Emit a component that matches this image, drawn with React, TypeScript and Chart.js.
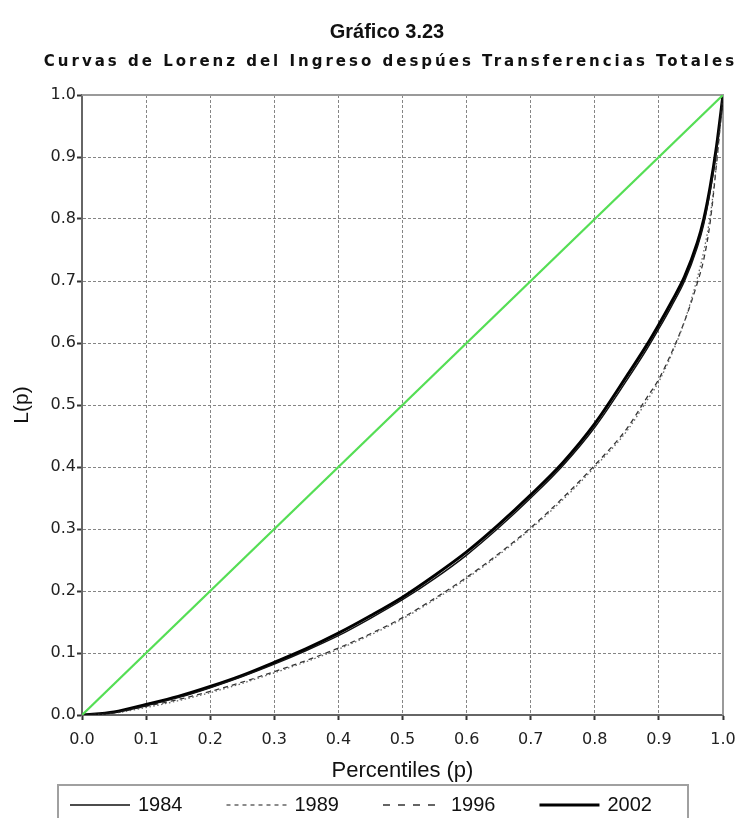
import React, { useEffect, useRef } from 'react';
import { Chart, registerables } from 'chart.js';

Chart.register(...registerables);

// ---- data ----
const percentiles = [0, 0.05, 0.1, 0.15, 0.2, 0.25, 0.3, 0.35, 0.4, 0.45, 0.5, 0.55, 0.6, 0.65, 0.7, 0.75, 0.8, 0.85, 0.88, 0.9, 0.92, 0.94, 0.96, 0.97, 0.98, 0.99, 1.0];
const lorenz1984 = [0, 0.004, 0.015, 0.028, 0.044, 0.062, 0.082, 0.104, 0.128, 0.156, 0.186, 0.220, 0.258, 0.302, 0.350, 0.402, 0.464, 0.540, 0.588, 0.623, 0.660, 0.700, 0.755, 0.792, 0.845, 0.912, 1.0];
const lorenz1989 = [0, 0.003, 0.012, 0.023, 0.036, 0.051, 0.068, 0.086, 0.106, 0.129, 0.155, 0.186, 0.220, 0.258, 0.300, 0.347, 0.400, 0.458, 0.505, 0.538, 0.582, 0.635, 0.705, 0.748, 0.805, 0.890, 1.0];
const lorenz1996 = [0, 0.004, 0.014, 0.025, 0.038, 0.053, 0.070, 0.088, 0.108, 0.131, 0.157, 0.188, 0.222, 0.260, 0.302, 0.350, 0.403, 0.462, 0.510, 0.542, 0.585, 0.635, 0.697, 0.735, 0.795, 0.890, 1.0];
const lorenz2002 = [0, 0.005, 0.017, 0.030, 0.046, 0.064, 0.085, 0.107, 0.132, 0.160, 0.190, 0.225, 0.263, 0.307, 0.355, 0.407, 0.470, 0.547, 0.595, 0.630, 0.667, 0.707, 0.762, 0.800, 0.852, 0.918, 1.0];
const equalityX = [0, 1];
const equalityY = [0, 1];
const tickValues = [0, 0.1, 0.2, 0.3, 0.4, 0.5, 0.6, 0.7, 0.8, 0.9, 1.0];
const legendYears = ['1984', '1989', '1996', '2002'];

const TITLE = 'Gráfico 3.23';
const SUBTITLE = 'Curvas de Lorenz del Ingreso despúes Transferencias Totales';
const X_TITLE = 'Percentiles (p)';
const Y_TITLE = 'L(p)';

const SANS = '"Liberation Sans", Arial, sans-serif';
const TICK_FONT = '"DejaVu Sans", Verdana, sans-serif';

const legendDash: Record<string, number[]> = {
  '1984': [],
  '1989': [4, 4],
  '1996': [7, 8],
  '2002': [],
};

const toPoints = (ys: number[]) => percentiles.map((p, i) => ({ x: p, y: ys[i] }));

const framePlugin = {
  id: 'frameBorder',
  beforeDatasetsDraw(chart: any) {
    const { ctx, chartArea } = chart;
    ctx.save();
    ctx.strokeStyle = '#9a9a9a';
    ctx.lineWidth = 2;
    ctx.beginPath();
    ctx.moveTo(chartArea.left, chartArea.top);
    ctx.lineTo(chartArea.right, chartArea.top);
    ctx.lineTo(chartArea.right, chartArea.bottom);
    ctx.stroke();
    ctx.restore();
  },
};

const boxLegendPlugin = {
  id: 'boxLegend',
  afterDraw(chart: any) {
    const { ctx, chartArea } = chart;
    const boxLeft = chartArea.left - 24;
    const boxRight = chartArea.right - 35;
    const boxTop = 785;
    ctx.save();
    ctx.strokeStyle = '#a0a0a0';
    ctx.lineWidth = 2;
    ctx.strokeRect(boxLeft, boxTop, boxRight - boxLeft, 60);
    ctx.font = `20px ${SANS}`;
    ctx.textBaseline = 'middle';
    ctx.textAlign = 'left';
    const y = 805;
    let x = boxLeft + 12;
    const lineLen = 60;
    chart.data.datasets.forEach((ds: any) => {
      if (!legendYears.includes(ds.label)) return;
      ctx.save();
      ctx.strokeStyle = ds.borderColor;
      ctx.lineWidth = ds.borderWidth;
      ctx.setLineDash(legendDash[ds.label] || []);
      ctx.beginPath();
      ctx.moveTo(x, y);
      ctx.lineTo(x + lineLen, y);
      ctx.stroke();
      ctx.restore();
      ctx.fillStyle = '#111';
      ctx.fillText(ds.label, x + lineLen + 8, y);
      const w = ctx.measureText(ds.label).width;
      x += lineLen + 8 + w + 44;
    });
    ctx.restore();
  },
};

export default function App() {
  const ref = useRef<HTMLCanvasElement>(null);

  useEffect(() => {
    document.body.style.margin = '0';
    document.body.style.overflow = 'hidden';
    const canvas = ref.current;
    if (!canvas) return;

    const gridCommon = {
      color: '#858585',
      lineWidth: 1,
      borderDash: [4, 3],
      tickLength: 5,
      tickColor: '#333',
      tickWidth: 2,
      tickBorderDash: [],
      drawTicks: true,
    };
    const borderCommon = { display: true, color: '#666', width: 2, dash: [3, 2] };

    const chart = new Chart(canvas, {
      type: 'line',
      data: {
        datasets: [
          {
            label: 'Igualdad',
            data: equalityX.map((x, i) => ({ x, y: equalityY[i] })),
            borderColor: 'rgb(85, 222, 85)',
            borderWidth: 2.2,
            pointRadius: 0,
          },
          {
            label: '1984',
            data: toPoints(lorenz1984),
            borderColor: '#111',
            borderWidth: 1.5,
            pointRadius: 0,
            cubicInterpolationMode: 'monotone',
          },
          {
            label: '1989',
            data: toPoints(lorenz1989),
            borderColor: '#666',
            borderWidth: 1.3,
            borderDash: [1.5, 2.5],
            pointRadius: 0,
            cubicInterpolationMode: 'monotone',
          },
          {
            label: '1996',
            data: toPoints(lorenz1996),
            borderColor: '#333',
            borderWidth: 1.3,
            borderDash: [5, 4],
            pointRadius: 0,
            cubicInterpolationMode: 'monotone',
          },
          {
            label: '2002',
            data: toPoints(lorenz2002),
            borderColor: '#000',
            borderWidth: 3,
            pointRadius: 0,
            cubicInterpolationMode: 'monotone',
          },
        ],
      } as any,
      options: {
        animation: false,
        responsive: false,
        maintainAspectRatio: false,
        layout: { padding: { top: 95, right: 17, bottom: 33, left: 6 } },
        plugins: {
          legend: { display: false },
          tooltip: { enabled: false },
        },
        scales: {
          x: {
            type: 'linear',
            min: 0,
            max: 1,
            afterBuildTicks: (s: any) => {
              s.ticks = tickValues.map((v) => ({ value: v }));
            },
            afterFit: (s: any) => {
              s.height = 70;
              s.paddingRight = 0;
              s.paddingLeft = 0;
            },
            ticks: {
              callback: (v: any) => Number(v).toFixed(1),
              font: { family: TICK_FONT, size: 16 },
              color: '#222',
              padding: 10,
              maxRotation: 0,
            },
            grid: gridCommon,
            border: borderCommon,
            title: {
              display: true,
              text: X_TITLE,
              font: { family: SANS, size: 22 },
              color: '#111',
              padding: { top: 0, bottom: 1 },
            },
          },
          y: {
            type: 'linear',
            min: 0,
            max: 1,
            afterBuildTicks: (s: any) => {
              s.ticks = tickValues.map((v) => ({ value: v }));
            },
            afterFit: (s: any) => {
              s.width = 76;
            },
            ticks: {
              callback: (v: any) => Number(v).toFixed(1),
              font: { family: TICK_FONT, size: 16 },
              color: '#222',
              padding: 1,
            },
            grid: gridCommon,
            border: borderCommon,
            title: {
              display: true,
              text: Y_TITLE,
              font: { family: SANS, size: 21 },
              color: '#111',
              padding: { top: 4, bottom: 4 },
            },
          },
        },
      } as any,
      plugins: [framePlugin, boxLegendPlugin],
    });

    return () => chart.destroy();
  }, []);

  return (
    <div
      style={{
        position: 'absolute',
        left: 0,
        top: 0,
        width: 740,
        height: 818,
        overflow: 'hidden',
        background: '#fff',
        fontFamily: SANS,
      }}
    >
      <canvas ref={ref} width={740} height={818} style={{ position: 'absolute', left: 0, top: 0 }} />
      <div
        style={{
          position: 'absolute',
          top: 19,
          left: 287,
          width: 200,
          textAlign: 'center',
          fontWeight: 'bold',
          fontSize: 20,
          lineHeight: '24px',
          color: '#111',
          whiteSpace: 'nowrap',
        }}
      >
        {TITLE}
      </div>
      <div
        style={{
          position: 'absolute',
          top: 52,
          left: 0,
          width: 781,
          textAlign: 'center',
          fontFamily: '"DejaVu Sans", Verdana, sans-serif',
          fontWeight: 'bold',
          fontSize: 15,
          lineHeight: '18px',
          letterSpacing: '3px',
          color: '#111',
          whiteSpace: 'nowrap',
        }}
      >
        {SUBTITLE}
      </div>
    </div>
  );
}
